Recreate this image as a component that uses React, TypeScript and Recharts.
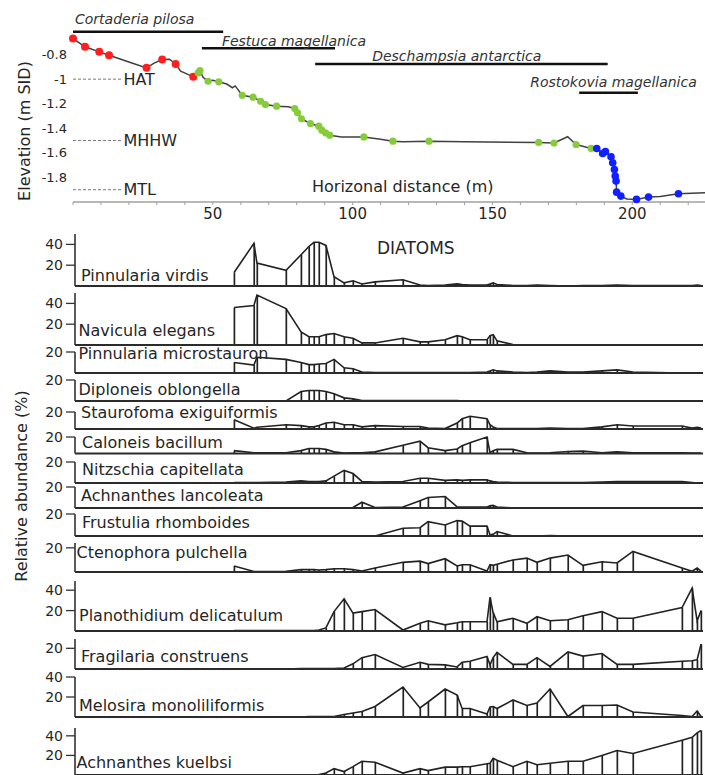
import React from 'react';
import { ComposedChart, Line, Bar, Scatter, XAxis, YAxis, ReferenceLine } from 'recharts';

const FONT = '"DejaVu Sans", sans-serif';
const INK = '#262626';

// ---------- transect (elevation profile) ----------
const distTicks = [0, 10, 20, 30, 40, 50, 60, 70, 80, 90, 100, 110, 120, 130, 140, 150, 160, 170, 180, 190, 200, 210, 220];
const elevTicks = [-1.8, -1.6, -1.4, -1.2, -1, -0.8];

const profileDist = [0, 4.3, 9.4, 12.9, 20, 26.3, 29, 31.9, 34.5, 36.7, 38.5, 40.5, 43, 44.8, 45.4, 46.5, 48.3, 50, 52.1, 55, 57, 58, 60.5, 64.4, 67.1, 68.8, 72.8, 77, 79.3, 80.3, 81.7, 84.9, 87.9, 89, 90.3, 91.8, 96, 104, 110, 114.4, 118, 127.3, 140, 166.5, 172, 176.9, 179.9, 185.3, 187.3, 189.4, 190.4, 192.4, 193, 193.6, 193.9, 194.2, 194.4, 195.9, 198, 201.5, 205.8, 210, 216.5, 226];
const profileElev = [-0.67, -0.737, -0.778, -0.806, -0.86, -0.908, -0.87, -0.841, -0.838, -0.876, -0.935, -0.955, -0.981, -0.949, -0.93, -0.985, -1.017, -1.01, -1.022, -1.04, -1.07, -1.055, -1.131, -1.147, -1.18, -1.207, -1.22, -1.225, -1.239, -1.274, -1.323, -1.361, -1.383, -1.415, -1.437, -1.456, -1.47, -1.47, -1.49, -1.505, -1.51, -1.505, -1.51, -1.515, -1.52, -1.469, -1.532, -1.564, -1.564, -1.605, -1.59, -1.632, -1.68, -1.735, -1.789, -1.83, -1.92, -1.952, -1.975, -1.979, -1.96, -1.955, -1.933, -1.924];

const redDist = [0, 4.3, 9.4, 12.9, 26.3, 31.9, 36.7, 43];
const redElev = [-0.67, -0.737, -0.778, -0.806, -0.908, -0.841, -0.876, -0.981];
const greenDist = [44.8, 45.4, 48.3, 52.1, 60.5, 64.4, 67.1, 68.8, 72.8, 79.3, 80.3, 81.7, 84.9, 87.9, 89, 90.3, 91.8, 104, 114.4, 127.3, 166.5, 172, 179.9, 185.3];
const greenElev = [-0.949, -0.93, -1.017, -1.022, -1.131, -1.147, -1.18, -1.207, -1.22, -1.239, -1.274, -1.323, -1.361, -1.383, -1.415, -1.437, -1.456, -1.47, -1.505, -1.505, -1.515, -1.52, -1.532, -1.564];
const blueDist = [187.3, 189.4, 190.4, 192.4, 193, 193.6, 193.9, 194.2, 194.4, 195.9, 201.5, 205.8, 216.5];
const blueElev = [-1.564, -1.605, -1.59, -1.632, -1.68, -1.735, -1.789, -1.83, -1.92, -1.952, -1.979, -1.96, -1.933];

const tideNames = ['HAT', 'MHHW', 'MTL'];
const tideElev = [-1.0, -1.5, -1.9];

const zoneNames = ['Cortaderia pilosa', 'Festuca magellanica', 'Deschampsia antarctica', 'Rostokovia magellanica'];
const zoneFrom = [0, 46.1, 86.6, 181];
const zoneTo = [53.7, 93.7, 191.2, 202];

// where the zone bars and their names sit (layout only)
const TIDE_STUB = 17.3;
const zoneLayout = [
  { level: -0.614, dx: 2, dy: 8 },
  { level: -0.749, dx: 20, dy: 2.5 },
  { level: -0.877, dx: 57, dy: 3 },
  { level: -1.11, dx: -49, dy: 6 },
];

// ---------- diatoms ----------
const sampleDist = [57.0, 64.1, 65.2, 75.6, 81.0, 83.8, 85.6, 87.4, 89.9, 92.8, 96.4, 99.6, 102.8, 107.5, 117.5, 123.6, 126.5, 132.6, 136.9, 138.7, 141.5, 147.6, 148.7, 149.8, 151.2, 156.9, 161.9, 165.5, 170.2, 176.6, 182.0, 188.8, 194.2, 199.9, 217.5, 221.1, 222.9, 224.3];

const species = [
  'Pinnularia virdis',
  'Navicula elegans',
  'Pinnularia microstauron',
  'Diploneis oblongella',
  'Staurofoma exiguiformis',
  'Caloneis bacillum',
  'Nitzschia capitellata',
  'Achnanthes lancoleata',
  'Frustulia rhomboides',
  'Ctenophora pulchella',
  'Planothidium delicatulum',
  'Fragilaria construens',
  'Melosira monoliliformis',
  'Achnanthes kuelbsi',
];

const pinnulariaVirdis = [13, 41, 22, 15, 30, 38, 42, 42, 39, 9, 3, 5, 2, 4, 6, 1, 0.5, 1, 2, 1.5, 1, 1, 2, 3, 1.5, 0.5, 0.5, 1, 0.5, 0, 0.5, 0.5, 1, 0.5, 0.5, 0.5, 1, 0.5];
const naviculaElegans = [36, 38, 48, 35, 12.5, 8, 8, 8, 10, 11, 8, 6.5, 2, 2, 6.5, 3, 3, 5, 9, 8, 5, 5, 9, 10, 4, 0.5, 0, 0, 0, 0, 0, 0, 0, 0, 0, 0, 0, 0];
const pinnulariaMicrostauron = [10, 7.5, 15, 13, 10, 8, 8, 8.5, 9, 13, 5, 4, 1, 0.5, 0.5, 0.5, 0.5, 0.5, 0.5, 0.5, 0.5, 1, 2, 3, 2, 1, 0.5, 1, 2, 1, 1, 2, 3, 1, 0, 0, 0, 0];
const diploneisOblongella = [0, 0, 0, 0, 9, 10, 10, 10, 9, 7, 3, 2, 0.5, 0.5, 0.5, 0.5, 0.5, 0.5, 0.5, 0, 0, 0, 0, 0, 0, 0, 0, 0, 0, 0, 0, 0, 0, 0, 0, 0, 0, 0];
const staurofomaExiguiformis = [11, 1, 2, 5, 4, 2.5, 2.5, 4, 7, 8, 5, 5, 2.5, 4, 3, 3, 1, 0.5, 7, 12, 15, 12, 5, 2.5, 0.5, 0.5, 0.5, 0.5, 1, 0.5, 0.5, 2.5, 5, 3.5, 3.5, 1, 2, 1];
const caloneisBacillum = [3.5, 1, 1, 1, 3.5, 6, 6, 6, 5, 2, 0.5, 1, 1, 2, 10, 15, 7, 3.5, 5.5, 9.5, 13, 20, 1, 3.5, 5, 5, 1, 0.5, 1, 2.5, 3, 1, 2, 1, 1, 0.5, 0.5, 0.5];
const nitzschiaCapitellata = [0.5, 0.5, 0.5, 1, 2, 1.5, 1.5, 1.5, 2, 6.5, 12, 9, 1.5, 1, 1.5, 4.5, 4.5, 2.5, 3, 2.5, 3, 3, 2, 1.5, 1, 0.5, 0.5, 0.5, 0.5, 0.5, 0.5, 1, 1.5, 1.5, 1.5, 0.5, 0, 0];
const achnanthesLancoleata = [0, 0, 0, 0, 0, 0, 0, 0, 0, 0, 0, 0.5, 5.5, 0.5, 1, 7, 10, 11, 1, 1, 1, 1, 2, 2.5, 1, 0, 0, 0, 0, 0, 0, 0, 0, 0, 0, 0, 0, 0];
const frustuliaRhomboides = [0, 0, 0, 0, 0, 0, 0, 0, 0, 0, 0, 0, 0, 0, 7, 7.5, 13, 10, 14, 13.5, 9, 9, 1, 1.5, 4, 0, 0, 0, 0.5, 0, 0, 0, 0, 0, 0, 0, 0, 0];
const ctenophoraPulchella = [5, 0.4, 0.4, 0.6, 2, 2, 2, 1.7, 2, 2.7, 2.7, 2, 0.8, 3.3, 8, 9, 7, 11, 5, 6, 6, 0.8, 6, 5.5, 6.5, 10, 11.5, 8, 11.5, 14, 5.5, 8.5, 7.5, 17, 3.3, 0.6, 3.3, 0.8];
const planothidiumDelicatulum = [0.5, 0.5, 0.5, 0.5, 0.5, 0.5, 0.5, 1, 3, 19, 31.5, 17.5, 19, 21, 1, 7.5, 10, 6, 8, 9, 9, 9, 33, 18, 9, 12.5, 7.5, 14, 10, 11, 15, 19, 12.5, 12.5, 23, 42, 10, 20];
const fragilariaConstruens = [0, 0, 0, 0, 0.5, 0.5, 0.5, 0.5, 0.5, 0.5, 1, 5, 11, 14, 1.5, 6.5, 4.5, 4, 2, 6.5, 7.5, 12, 4, 11, 16, 4.5, 4.5, 11, 2.5, 16.5, 12.5, 15, 4.5, 4.5, 7.5, 8, 9, 24];
const melosiraMonoliliformis = [0, 0, 0, 0, 0, 0.5, 0.5, 0.5, 0.5, 0.5, 2.5, 4, 5.5, 10.5, 30, 9, 15, 28, 22, 8.5, 8.5, 3, 10, 10.5, 8.5, 17, 11.5, 14, 28, 0.5, 11.5, 11.5, 12, 5, 1.5, 0.5, 6, 0.5];
const achnanthesKuelbsi = [0, 0, 0, 0, 0, 0, 0, 0.5, 2, 6.5, 3.5, 8.5, 14, 13, 2, 6.5, 4.5, 8, 8, 8.5, 8.5, 11.5, 12, 17, 15, 8.5, 14, 10.5, 12, 14, 14, 20, 25, 22, 35.5, 38.5, 43, 45.5];

const diatomValues = [
  pinnulariaVirdis, naviculaElegans, pinnulariaMicrostauron, diploneisOblongella,
  staurofomaExiguiformis, caloneisBacillum, nitzschiaCapitellata, achnanthesLancoleata,
  frustuliaRhomboides, ctenophoraPulchella, planothidiumDelicatulum, fragilariaConstruens,
  melosiraMonoliliformis, achnanthesKuelbsi,
];

// page placement of each strip (top of axis, baseline), its y range and label spot
const panelLayout = [
  { top: 234, base: 286, yMax: 50, ticks: [20, 40], labelX: 81, labelDy: 5 },
  { top: 293, base: 345, yMax: 50, ticks: [20, 40], labelX: 78.5, labelDy: 9.5 },
  { top: 352, base: 373, yMax: 20, ticks: [20], labelX: 78.5, labelDy: 14.5 },
  { top: 380, base: 401, yMax: 20, ticks: [20], labelX: 78.5, labelDy: 6.5 },
  { top: 412, base: 429, yMax: 20, ticks: [20], labelX: 81, labelDy: 11.5 },
  { top: 437, base: 453.5, yMax: 20, ticks: [20], labelX: 82, labelDy: 6 },
  { top: 462, base: 483, yMax: 20, ticks: [20], labelX: 82, labelDy: 8.5 },
  { top: 487, base: 508, yMax: 20, ticks: [20], labelX: 81, labelDy: 7 },
  { top: 514, base: 536, yMax: 20, ticks: [20], labelX: 82, labelDy: 8.5 },
  { top: 543, base: 572, yMax: 24, ticks: [20], labelX: 76.5, labelDy: 14.5 },
  { top: 581, base: 631, yMax: 49, ticks: [20, 40], labelX: 79, labelDy: 10 },
  { top: 639, base: 669, yMax: 29, ticks: [20], labelX: 81, labelDy: 7 },
  { top: 677, base: 717, yMax: 40, ticks: [20, 40], labelX: 79, labelDy: 6 },
  { top: 728, base: 775, yMax: 48, ticks: [20, 40], labelX: 76.5, labelDy: 7.5 },
];

const PANEL_PAD_TOP = 14;
const PANEL_PAD_BOTTOM = 3;

const toPoints = (xs: number[], ys: number[]) => xs.map((x, i) => ({ x, y: ys[i] }));

const dotShape = (fill: string, r: number) => (p: any) => (
  <circle cx={p.cx} cy={p.cy} r={r} fill={fill} />
);

function distanceLabel(props: any) {
  const vb = props.viewBox || { x: 0, y: 0 };
  return (
    <text x={vb.x + 239} y={vb.y - 10} fontSize={16} fill={INK}>
      Horizonal distance (m)
    </text>
  );
}

function elevationLabel(props: any) {
  const vb = props.viewBox || { x: 0, y: 0, height: 0 };
  const cx = vb.x + 29.5;
  const cy = vb.y + vb.height / 2 + 15;
  return (
    <text x={cx} y={cy} transform={`rotate(-90 ${cx} ${cy})`} textAnchor="middle" fontSize={16} fill={INK}>
      Elevation (m SID)
    </text>
  );
}

const zoneLabel = (i: number) => (props: any) => {
  const vb = props.viewBox || { x: 0, y: 0 };
  return (
    <text x={vb.x + zoneLayout[i].dx} y={vb.y - zoneLayout[i].dy} fontSize={14} fontStyle="italic" fill="#333">
      {zoneNames[i]}
    </text>
  );
};

function TransectChart() {
  const profile = toPoints(profileDist, profileElev);
  return (
    <ComposedChart width={705} height={232} margin={{ top: 30, right: 0, bottom: 0, left: 0 }}>
      <XAxis
        type="number"
        dataKey="x"
        domain={[0, 226]}
        ticks={distTicks}
        interval={0}
        tickFormatter={(v: number) => (v > 0 && v % 50 === 0 ? String(v) : '')}
        height={30}
        tickSize={3}
        tickMargin={3}
        axisLine={{ stroke: '#a0a0a0', strokeWidth: 1.5 }}
        tickLine={{ stroke: '#a0a0a0' }}
        tick={{ fontSize: 15, fill: INK }}
        label={distanceLabel}
      />
      <YAxis
        type="number"
        dataKey="y"
        domain={[-2, -0.6]}
        ticks={elevTicks}
        interval={0}
        width={73}
        axisLine={false}
        tickLine={false}
        tickSize={4}
        tickMargin={2}
        tick={{ fontSize: 13, fill: INK }}
        label={elevationLabel}
      />
      {tideNames.map((name, i) => (
        <ReferenceLine
          key={name}
          segment={[{ x: 0, y: tideElev[i] }, { x: TIDE_STUB, y: tideElev[i] }]}
          stroke="#777"
          strokeDasharray="3 2"
          strokeWidth={1}
          label={{ value: name, position: 'right', offset: 2, fontSize: 16, fill: INK }}
        />
      ))}
      {zoneNames.map((name, i) => (
        <ReferenceLine
          key={name}
          segment={[{ x: zoneFrom[i], y: zoneLayout[i].level }, { x: zoneTo[i], y: zoneLayout[i].level }]}
          stroke="#111"
          strokeWidth={2.5}
          label={zoneLabel(i)}
        />
      ))}
      <Line data={profile} dataKey="y" type="linear" stroke="#404040" strokeWidth={1.5} dot={false} isAnimationActive={false} />
      <Scatter data={toPoints(redDist, redElev)} dataKey="y" shape={dotShape('#ff1f1f', 4)} isAnimationActive={false} />
      <Scatter data={toPoints(greenDist, greenElev)} dataKey="y" shape={dotShape('#86cc3a', 3.6)} isAnimationActive={false} />
      <Scatter data={toPoints(blueDist, blueElev)} dataKey="y" shape={dotShape('#1020ff', 3.8)} isAnimationActive={false} />
    </ComposedChart>
  );
}

function diatomsTitle(props: any) {
  const vb = props.viewBox || { x: 0, y: 0 };
  return (
    <text x={vb.x + 302} y={vb.y - 32} fontSize={17} fill={INK}>
      DIATOMS
    </text>
  );
}

function DiatomPanel({ index }: { index: number }) {
  const lay = panelLayout[index];
  const values = diatomValues[index];
  const data = sampleDist.map((d, i) => ({ d, v: values[i] }));
  const height = PANEL_PAD_TOP + (lay.base - lay.top) + 1 + PANEL_PAD_BOTTOM;

  const speciesLabel = (props: any) => {
    const vb = props.viewBox || { x: 0, y: 0, width: 0, height: 0 };
    return (
      <text x={vb.x + vb.width + (lay.labelX - 75)} y={vb.y + vb.height - lay.labelDy} fontSize={16} fill={INK}>
        {species[index]}
      </text>
    );
  };

  return (
    <div style={{ position: 'absolute', left: 0, top: lay.top - PANEL_PAD_TOP }}>
      <ComposedChart
        width={705}
        height={height}
        data={data}
        margin={{ top: PANEL_PAD_TOP, right: 2, bottom: PANEL_PAD_BOTTOM, left: 0 }}
      >
        <XAxis
          type="number"
          dataKey="d"
          domain={[0, 225]}
          height={1}
          tick={false}
          tickLine={false}
          axisLine={{ stroke: '#2b2b2b', strokeWidth: 2.2 }}
          label={index === 0 ? diatomsTitle : undefined}
        />
        <YAxis
          type="number"
          domain={[0, lay.yMax]}
          ticks={lay.ticks}
          interval={0}
          width={75}
          tickSize={9}
          tickMargin={3}
          axisLine={{ stroke: '#333', strokeWidth: 1.6 }}
          tickLine={{ stroke: '#333', strokeWidth: 1.3 }}
          tick={{ fontSize: 14, fill: INK }}
          label={speciesLabel}
        />
        <Bar dataKey="v" barSize={1.7} fill="#222" isAnimationActive={false} />
        <Line dataKey="v" type="linear" stroke="#222" strokeWidth={1.6} dot={false} isAnimationActive={false} />
      </ComposedChart>
    </div>
  );
}

export default function App() {
  return (
    <div
      style={{
        position: 'absolute',
        left: 0,
        top: 0,
        width: 705,
        height: 775,
        overflow: 'hidden',
        background: '#fff',
        fontFamily: FONT,
      }}
    >
      <div style={{ position: 'absolute', left: 0, top: 0 }}>
        <TransectChart />
      </div>
      {species.map((name, i) => (
        <DiatomPanel key={name} index={i} />
      ))}
      <svg style={{ position: 'absolute', left: 0, top: 0 }} width={40} height={775}>
        <text x={26.5} y={486} transform="rotate(-90 26.5 486)" textAnchor="middle" fontSize={16} fill={INK}>
          Relative abundance (%)
        </text>
      </svg>
    </div>
  );
}
